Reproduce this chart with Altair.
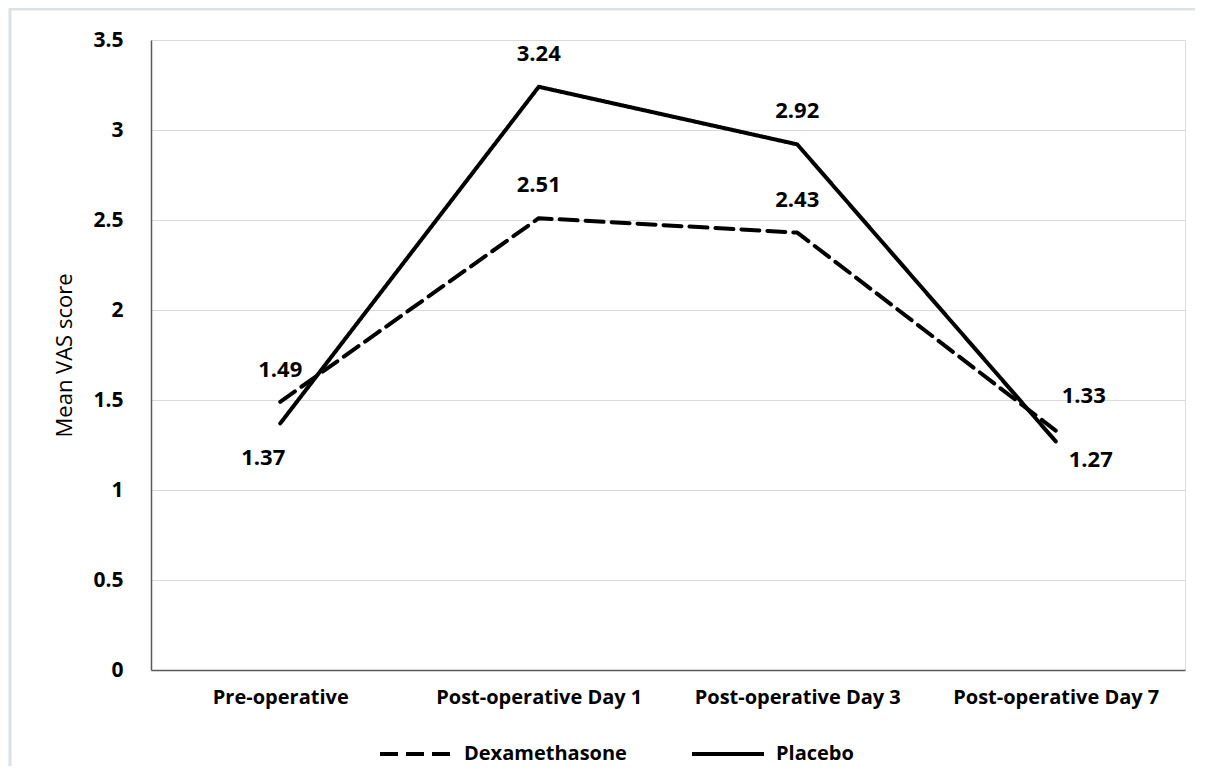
import altair as alt
import pandas as pd

categories = ["Pre-operative", "Post-operative Day 1", "Post-operative Day 3", "Post-operative Day 7"]
series_names = ["Dexamethasone", "Placebo"]
dexamethasone = [1.49, 2.51, 2.43, 1.33]
placebo = [1.37, 3.24, 2.92, 1.27]
y_ticks = [0, 0.5, 1, 1.5, 2, 2.5, 3, 3.5]

rows = []
for c, d, p in zip(categories, dexamethasone, placebo):
    rows.append({"category": c, "series": series_names[0], "value": d, "label": f"{d:.2f}"})
    rows.append({"category": c, "series": series_names[1], "value": p, "label": f"{p:.2f}"})
df = pd.DataFrame(rows)

FONT = "Open Sans"
W, H = 1034, 630

x_enc = alt.X("category:N", sort=categories,
              scale=alt.Scale(type="point", padding=0.5),
              axis=alt.Axis(title=None, labelAngle=0, ticks=False, domain=True,
                            domainColor="#595959", domainWidth=1.5, labelLimit=0,
                            labelFont=FONT, labelFontWeight="bold", labelFontSize=20,
                            labelColor="#000000", labelPadding=17, grid=False))
y_enc = alt.Y("value:Q", scale=alt.Scale(domain=[0, 3.5], nice=False),
              axis=alt.Axis(title="Mean VAS score", values=y_ticks, ticks=False, format=".1~f",
                            domain=True, domainColor="#595959", domainWidth=1.5,
                            grid=True, gridColor="#d9d9d9", gridWidth=1, labelLimit=0,
                            labelFont=FONT, labelFontWeight="bold", labelFontSize=21,
                            labelColor="#000000", labelPadding=28,
                            titleFont=FONT, titleFontWeight="normal", titleFontSize=22,
                            titleColor="#000000", titlePadding=16))

base = alt.Chart(df)

lines = base.mark_line(strokeWidth=4, color="#000000", strokeCap="round", strokeJoin="round").encode(
    x=x_enc, y=y_enc,
    strokeDash=alt.StrokeDash("series:N",
        scale=alt.Scale(domain=series_names, range=[[18, 8], [1, 0]]),
        legend=alt.Legend(title=None, orient="none", legendX=248, legendY=697,
                          direction="horizontal", symbolType="M-2.4,0H2.4", symbolSize=900,
                          symbolStrokeWidth=4, symbolStrokeColor="#000000",
                          symbolFillColor="transparent", labelLimit=0,
                          labelFont=FONT, labelFontWeight="bold", labelFontSize=20,
                          labelColor="#000000", labelOffset=31, columnPadding=57)),
)

def lab(cond, dx, dy):
    return base.transform_filter(cond).mark_text(
        font=FONT, fontWeight="bold", fontSize=22, color="#000000", dx=dx, dy=dy,
        baseline="middle", align="center").encode(
        x=alt.X("category:N", sort=categories), y="value:Q", text="label:N")

cat0 = categories[0]
cat3 = categories[3]
mid_cond = f"datum.category != '{cat0}' && datum.category != '{cat3}'"
labels = [
    lab(mid_cond, 0, -33),
    lab(f"datum.category == '{cat0}' && datum.series == 'Dexamethasone'", 0, -32),
    lab(f"datum.category == '{cat0}' && datum.series == 'Placebo'", -17, 35),
    lab(f"datum.category == '{cat3}' && datum.series == 'Dexamethasone'", 28, -35),
    lab(f"datum.category == '{cat3}' && datum.series == 'Placebo'", 35, 19),
]

frame = alt.Chart(pd.DataFrame({"k": [0]}))
border_top = frame.mark_rule(stroke="#dbe1e8", strokeWidth=3).encode(
    x=alt.value(-142), x2=alt.value(1044), y=alt.value(-31))
border_left = frame.mark_rule(stroke="#dbe1e8", strokeWidth=3).encode(
    x=alt.value(-141), y=alt.value(-32), y2=alt.value(726))

chart = alt.layer(border_top, border_left, lines, *labels).properties(
    width=W, height=H,
    autosize=alt.AutoSizeParams(type="none"),
    padding={"left": 143, "top": 32, "right": 10, "bottom": 96},
).configure_view(stroke=None).configure(background="#ffffff")

chart.save("out.html", embed_options={"renderer": "svg", "actions": False})
